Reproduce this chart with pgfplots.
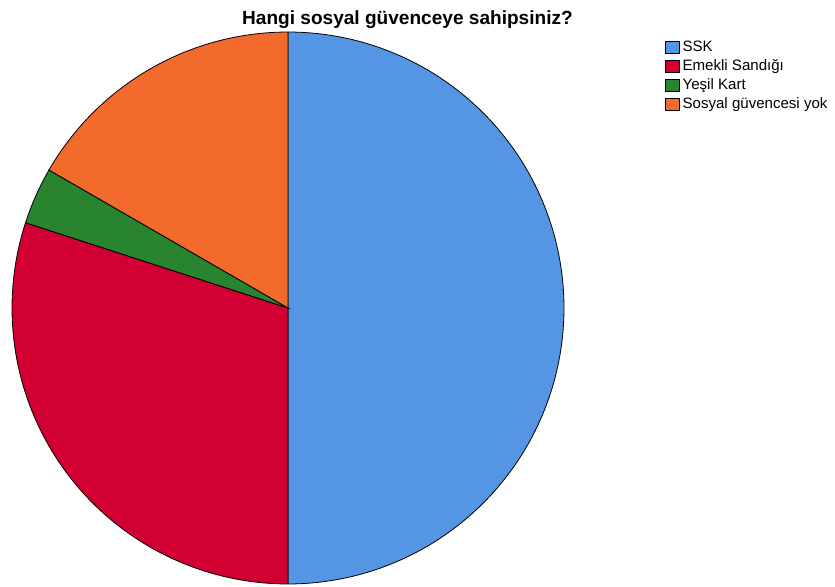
\documentclass[border=0pt]{standalone}
\usepackage{pgfplots}
\pgfplotsset{compat=1.18}
\usepackage{fontspec}
\setmainfont{Liberation Sans}
\definecolor{cSSK}{RGB}{85,150,228}
\definecolor{cEmekli}{RGB}{210,0,50}
\definecolor{cYesil}{RGB}{40,132,46}
\definecolor{cYok}{RGB}{242,106,44}
% counts (n = 60)
\def\nSSK{30}
\def\nEmekli{18}
\def\nYesil{2}
\def\nYok{10}
\pgfmathsetmacro{\tot}{\nSSK+\nEmekli+\nYesil+\nYok}
\pgfmathsetmacro{\aA}{90}
\pgfmathsetmacro{\aB}{\aA-360*\nSSK/\tot}
\pgfmathsetmacro{\aC}{\aB-360*\nEmekli/\tot}
\pgfmathsetmacro{\aD}{\aC-360*\nYesil/\tot}
\pgfmathsetmacro{\aE}{\aD-360*\nYok/\tot}
\begin{document}
\begin{tikzpicture}
\path[use as bounding box] (0pt,0pt) rectangle (626.25pt,439.5pt);
\begin{axis}[
  at={(216pt,208.5pt)}, anchor=center,
  scale only axis, width=414pt, height=414pt,
  xmin=-1, xmax=1, ymin=-1, ymax=1,
  hide axis, clip=false,
  legend style={at={(1.183,0.989)}, anchor=north west, draw=none, fill=none,
    font=\fontsize{11.3pt}{13pt}\selectfont, row sep=0.6pt,
    inner sep=0pt},
  legend cell align=left,
  legend image code/.code={\draw[#1, draw=black, line width=0.5pt] (0pt,-4.6pt) rectangle (10.5pt,4.6pt);},
]
\addplot[fill=cSSK, draw=black, line width=0.6pt, domain=\aB:\aA, samples=120, variable=\t]
  ({cos(t)},{sin(t)}) -- (0,0) -- cycle;
\addlegendentry{SSK}
\addplot[fill=cEmekli, draw=black, line width=0.6pt, domain=\aC:\aB, samples=80, variable=\t]
  ({cos(t)},{sin(t)}) -- (0,0) -- cycle;
\addlegendentry{Emekli Sandığı}
\addplot[fill=cYesil, draw=black, line width=0.6pt, domain=\aD:\aC, samples=15, variable=\t]
  ({cos(t)},{sin(t)}) -- (0,0) -- cycle;
\addlegendentry{Yeşil Kart}
\addplot[fill=cYok, draw=black, line width=0.6pt, domain=\aE:\aD, samples=50, variable=\t]
  ({cos(t)},{sin(t)}) -- (0,0) -- cycle;
\addlegendentry{Sosyal güvencesi yok}
\end{axis}
\node[font=\bfseries\fontsize{14.3pt}{16pt}\selectfont] at (305.6pt,425pt) {Hangi sosyal güvenceye sahipsiniz?};
\end{tikzpicture}
\end{document}
